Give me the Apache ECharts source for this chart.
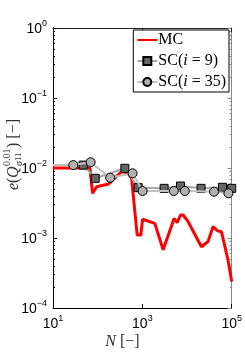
<!DOCTYPE html>
<html><head><meta charset="utf-8">
<script src="https://cdn.jsdelivr.net/npm/echarts@6/dist/echarts.min.js"></script>
<style>html,body{margin:0;padding:0;background:#fff}#c{width:245px;height:354px}</style>
</head><body><div id="c"></div>
<script>
// Data
const mcN   = [10, 67, 77, 95, 175, 343, 480, 574, 766, 925, 1010, 1900, 2920, 5140, 6000, 7140, 8180, 10600, 21000, 29500, 38200, 47900, 58900, 82600, 100000];
const mcErr = [0.0100, 0.0100, 0.00435, 0.0054, 0.0059, 0.0089, 0.0084, 0.0071, 0.0011, 0.0011, 0.00185, 0.00162, 0.00068, 0.0019, 0.00166, 0.00213, 0.00213, 0.00171, 0.00075, 0.00089, 0.00145, 0.00127, 0.00123, 0.000485, 0.00024];
const sc9N   = [10, 47.5, 88, 406, 805, 3070, 7140, 20600, 62000, 100000];
const sc9Err = [0.0110, 0.0110, 0.00713, 0.0099, 0.00524, 0.00512, 0.00553, 0.00512, 0.0053, 0.00512];
const sc35N   = [10, 28.5, 69.5, 190.6, 604, 1010, 5060, 8910, 40200, 84400];
const sc35Err = [0.0110, 0.0110, 0.0121, 0.00726, 0.0084, 0.00469, 0.00469, 0.00469, 0.00458, 0.00435];
const xTicks = [10, 1000, 100000];
const yTicks = [1e-4, 1e-3, 1e-2, 1e-1, 1];

const yMinor = [];
for (let d = -4; d < 0; d++) for (let k = 2; k <= 9; k++) yMinor.push(k * Math.pow(10, d));

function pts(xs, ys, firstPlain) {
  return xs.map((x, i) => (firstPlain && i === 0) ? {value: [x, ys[i]], symbol: 'none'} : [x, ys[i]]);
}
function powLabel(v) {
  const e = Math.round(Math.log10(v));
  return '{b|10}{s|' + (e < 0 ? '\u2212' : '') + Math.abs(e) + '}';
}
const labRich = {
  b: {fontSize: 14, fontFamily: 'Liberation Sans', color: '#000', verticalAlign: 'bottom'},
  s: {fontSize: 9, fontFamily: 'Liberation Sans', color: '#000', verticalAlign: 'bottom', padding: [0, 0, 8, 0]}
};
const serif = 'Liberation Serif';

const chart = echarts.init(document.getElementById('c'), null, {renderer: 'canvas'});
function yAx(pos, color, ticks, len, labels) {
  return {
    type: 'log', min: 1e-4, max: 1, position: pos,
    axisLine: {show: true, lineStyle: {color: color, width: 1}},
    axisTick: {show: true, inside: true, length: len, customValues: ticks, lineStyle: {color: color}},
    axisLabel: labels ? {show: true, customValues: yTicks, formatter: powLabel, rich: labRich, margin: 6} : {show: false},
    splitLine: {show: false}
  };
}
function xAx(pos, color, labels) {
  return {
    type: 'log', min: 10, max: 100000, position: pos,
    axisLine: {show: true, lineStyle: {color: color, width: 1}},
    axisTick: {show: true, inside: true, length: 4, customValues: xTicks, lineStyle: {color: color}},
    axisLabel: labels ? {show: true, customValues: xTicks, formatter: powLabel, rich: labRich, margin: 6} : {show: false},
    splitLine: {show: false}
  };
}

chart.setOption({
  animation: false,
  backgroundColor: '#fff',
  grid: {left: 53, right: 13, top: 28, bottom: 46},
  xAxis: [xAx('bottom', '#000', true), xAx('top', '#222', false)],
  yAxis: [
    yAx('left', '#000', yTicks, 4, true),
    yAx('right', '#888', yTicks, 4, false),
    yAx('left', '#000', yMinor, 2, false),
    yAx('right', '#888', yMinor, 2, false)
  ],
  legend: {
    orient: 'vertical', right: 16, top: 30,
    backgroundColor: '#fff', borderColor: '#000', borderWidth: 1,
    padding: [2, 3, 2, 3], itemGap: 5, itemWidth: 20, itemHeight: 10,
    textStyle: {fontFamily: serif, fontSize: 16, color: '#000', padding: [0, 0, 0, -4],
      rich: {i: {fontFamily: serif, fontStyle: 'italic', fontSize: 16, color: '#000'}}},
    formatter: function (n) {
      if (n === 'MC') return 'MC';
      const m = n.match(/\((\d+)\)/);
      return 'SC({i|i} = ' + m[1] + ')';
    },
    data: ['MC', 'SC(9)', 'SC(35)']
  },
  series: [
    {name: 'MC', type: 'line', xAxisIndex: 0, yAxisIndex: 0, data: pts(mcN, mcErr, false),
      showSymbol: false, symbol: 'none', lineStyle: {color: '#ff0000', width: 3},
      itemStyle: {color: '#ff0000', opacity: 0}, z: 2},
    {name: 'SC(9)', type: 'line', xAxisIndex: 0, yAxisIndex: 0, data: pts(sc9N, sc9Err, true),
      symbol: 'rect', symbolSize: 8, lineStyle: {color: '#a8a8a8', width: 2},
      itemStyle: {color: '#666666', borderColor: '#000', borderWidth: 1}, z: 3},
    {name: 'SC(35)', type: 'line', xAxisIndex: 0, yAxisIndex: 0, data: pts(sc35N, sc35Err, true),
      symbol: 'circle', symbolSize: 9, lineStyle: {color: '#c0c0c0', width: 2},
      itemStyle: {color: '#b0b0b0', borderColor: '#000', borderWidth: 1}, z: 4}
  ],
  graphic: [
    {type: 'text', left: 'center', top: 334, style: {
      text: '{i|N} [\u2212]', rich: {i: {fontStyle: 'italic', fontFamily: serif, fontSize: 16, fill: '#333'}},
      fontFamily: serif, fontSize: 16, fill: '#333'}},
    {type: 'group', x: 14, y: 190, rotation: Math.PI / 2, children: [
      {type: 'text', x: 0, y: 0, style: {text: '{i|e}(', rich: {i: {fontStyle: 'italic', fontFamily: serif, fontSize: 16, fill: '#333'}},
        fontFamily: serif, fontSize: 16, fill: '#333', verticalAlign: 'middle', align: 'left'}},
      {type: 'text', x: 12, y: 0, style: {text: 'Q', fontStyle: 'italic', fontFamily: serif, fontSize: 16, fill: '#333', verticalAlign: 'middle', align: 'left'}},
      {type: 'text', x: 24, y: -7, style: {text: '0.01', fontFamily: serif, fontSize: 10, fill: '#333', verticalAlign: 'middle', align: 'left'}},
      {type: 'text', x: 24, y: 5, style: {text: '{i|\u03c3}11', rich: {i: {fontStyle: 'italic', fontFamily: serif, fontSize: 10, fill: '#333'}},
        fontFamily: serif, fontSize: 9, fill: '#333', verticalAlign: 'middle', align: 'left'}},
      {type: 'text', x: 42, y: 0, style: {text: ') [\u2212]', fontFamily: serif, fontSize: 16, fill: '#333', verticalAlign: 'middle', align: 'left'}}
    ]}
  ]
});
</script></body></html>
